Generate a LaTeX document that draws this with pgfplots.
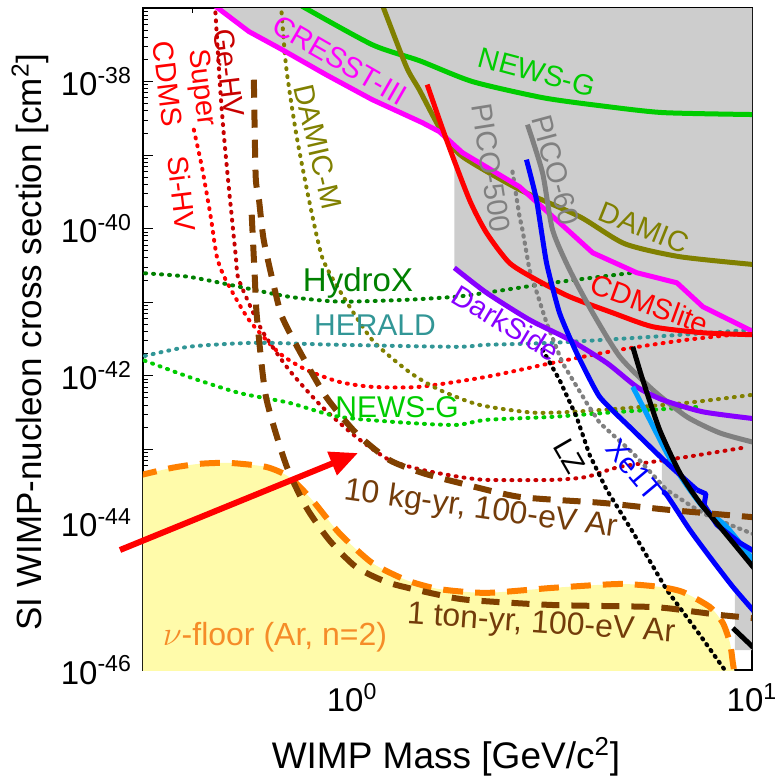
\documentclass[border=0pt]{standalone}
\usepackage{pgfplots}
\pgfplotsset{compat=1.18}
\usepackage{fontspec}
\setmainfont{Liberation Sans}
\usetikzlibrary{arrows.meta}
\definecolor{cresst}{RGB}{255,0,255}
\definecolor{newsg}{RGB}{0,204,0}
\definecolor{damic}{RGB}{128,128,0}
\definecolor{cdmsred}{RGB}{255,0,0}
\definecolor{picogray}{RGB}{128,128,128}
\definecolor{xeblue}{RGB}{0,0,255}
\definecolor{xelight}{RGB}{0,160,255}
\definecolor{darkside}{RGB}{136,0,255}
\definecolor{hydrox}{RGB}{0,128,0}
\definecolor{herald}{RGB}{50,150,150}
\definecolor{gehv}{RGB}{200,0,0}
\definecolor{brownl}{RGB}{128,64,0}
\definecolor{browntxt}{RGB}{115,60,10}
\definecolor{nuorange}{RGB}{255,128,0}
\definecolor{nutxt}{RGB}{245,140,40}
\definecolor{nufill}{RGB}{255,251,170}
\definecolor{regiongray}{RGB}{205,205,205}
\newcommand{\lab}{\fontsize{14.5pt}{17pt}\selectfont}
\newcommand{\labb}{\fontsize{16pt}{19pt}\selectfont}
\pgfplotsset{
  solidl/.style={line width=2.5pt, line join=round},
  dotl/.style={line width=2pt, line cap=round, dash pattern=on 0.5pt off 3.5pt},
}
\begin{document}
\begin{tikzpicture}
\path[use as bounding box] (-71.5pt,-54.5pt) rectangle (318pt,335pt);
\begin{axis}[
  at={(0pt,0pt)}, anchor=south west, scale only axis,
  width=304.5pt, height=331pt,
  xmode=log, ymode=log,
  xmin=0.3, xmax=10, ymin=1e-46, ymax=1e-37,
  no markers,
  axis line style={line width=0.75pt},
  every tick/.style={black, line width=0.5pt},
  major tick length=5pt, minor tick length=2.5pt,
  xtick={1,10},
  xticklabels={{10\textsuperscript{0}},{10\textsuperscript{1}}},
  minor xtick={0.3,0.4,0.5,0.6,0.7,0.8,0.9,2,3,4,5,6,7,8,9},
  ytick={1e-46,1e-45,1e-44,1e-43,1e-42,1e-41,1e-40,1e-39,1e-38,1e-37},
  yticklabels={{10\textsuperscript{-46}},{},{10\textsuperscript{-44}},{},{10\textsuperscript{-42}},{},{10\textsuperscript{-40}},{},{10\textsuperscript{-38}},{}},
  minor ytick={2e-46,3e-46,4e-46,5e-46,6e-46,7e-46,8e-46,9e-46,
    2e-45,3e-45,4e-45,5e-45,6e-45,7e-45,8e-45,9e-45,
    2e-44,3e-44,4e-44,5e-44,6e-44,7e-44,8e-44,9e-44,
    2e-43,3e-43,4e-43,5e-43,6e-43,7e-43,8e-43,9e-43,
    2e-42,3e-42,4e-42,5e-42,6e-42,7e-42,8e-42,9e-42,
    2e-41,3e-41,4e-41,5e-41,6e-41,7e-41,8e-41,9e-41,
    2e-40,3e-40,4e-40,5e-40,6e-40,7e-40,8e-40,9e-40,
    2e-39,3e-39,4e-39,5e-39,6e-39,7e-39,8e-39,9e-39,
    2e-38,3e-38,4e-38,5e-38,6e-38,7e-38,8e-38,9e-38},
  tick label style={font=\fontsize{16.5pt}{19pt}\selectfont},
  xticklabel style={yshift=-3pt},
  yticklabel style={xshift=-2pt},
]
% excluded region
\addplot[fill=regiongray, draw=none] coordinates {
(0.449,2e-37)(0.449,1.12e-37)(0.552,4.79e-38)(0.668,2.72e-38)(0.861,1.24e-38)(1.122,5.69e-39)(1.497,2.77e-39)(1.652,2.09e-39)(1.802,1.35e-39)(1.802,2.94e-41)(2.167,1.35e-41)(2.777,5.78e-42)(3.498,3.09e-42)(3.641,2.06e-42)(4.159,5.18e-43)(5.033,1.84e-43)(5.95,7.66e-44)(5.95,2.64e-44)(6.12,2.40e-44)(6.992,8.04e-45)(7.848,3.44e-45)(8.959,1.35e-45)(9.063,1.25e-45)(9.063,1.87e-46)(11,1.87e-46)(11,2e-37)};
% neutrino floor fill
\addplot[fill=nufill, draw=none, smooth, tension=0.4] coordinates {
(0.29,4.36e-44)(0.354,5.60e-44)(0.414,6.35e-44)(0.492,6.55e-44)(0.609,5.78e-44)(0.695,4.23e-44)(0.794,2.06e-44)(0.928,7.31e-45)(1.122,2.86e-45)(1.366,1.67e-45)(1.652,1.26e-45)(2.167,1.12e-45)(3.171,1.31e-45)(4.671,1.48e-45)(5.877,1.35e-45)(6.716,1.15e-45)(7.848,7.19e-46)(8.456,4.36e-46)(8.810,2.33e-46)(8.959,1.24e-46)(9.063,8.55e-47)(9.1,3e-47)(0.29,3e-47)};
% projections (dotted)
\addplot[dotl, color=cdmsred, smooth, tension=0.4] coordinates {
(0.402,2.22e-39)(0.421,6.98e-40)(0.443,1.46e-40)(0.459,4.16e-41)(0.483,2.02e-41)(0.552,5.78e-42)(0.656,2.06e-42)(0.767,1.21e-42)(0.928,8.28e-43)(1.122,7.08e-43)(1.472,7.08e-43)(2.167,9.69e-43)(3.171,1.50e-42)(4.671,2.26e-42)(6.874,3.09e-42)(10,3.85e-42)};
\addplot[dotl, color=gehv, smooth, tension=0.4] coordinates {
(0.454,1.12e-37)(0.470,5.69e-39)(0.486,6.98e-40)(0.512,4.16e-41)(0.521,2.02e-41)(0.594,4.23e-42)(0.695,1.21e-42)(0.841,3.79e-43)(1.023,1.48e-43)(1.238,7.19e-44)(1.497,5.26e-44)(1.854,4.23e-44)(2.167,3.85e-44)(3.171,3.85e-44)(3.858,4.23e-44)(4.671,5.78e-44)(6.874,7.91e-44)(9.485,1.05e-43)};
\addplot[dotl, color=damic, smooth, tension=0.4] coordinates {
(0.664,1.12e-37)(0.684,1.60e-38)(0.724,2.02e-39)(0.780,2.48e-40)(0.841,4.16e-41)(0.928,1.48e-41)(1.122,3.09e-42)(1.389,1.13e-42)(1.652,6.46e-43)(2.081,4.03e-43)(2.891,3.14e-43)(4.236,3.44e-43)(6.874,4.30e-43)(10,5.51e-43)};
\addplot[dotl, color=hydrox, smooth, tension=0.4] coordinates {
(0.29,2.52e-41)(0.390,2.22e-41)(0.521,1.63e-41)(0.695,1.19e-41)(0.928,1.02e-41)(1.366,1.08e-41)(1.823,1.19e-41)(2.167,1.35e-41)(3.171,1.84e-41)(5.033,2.52e-41)};
\addplot[dotl, color=herald, smooth, tension=0.4] coordinates {
(0.29,1.76e-42)(0.390,2.48e-42)(0.574,2.81e-42)(0.928,2.64e-42)(1.823,2.48e-42)(2.167,2.64e-42)(3.171,2.81e-42)(5.646,3.40e-42)(10,4.23e-42)};
\addplot[dotl, color=newsg, smooth, tension=0.4] coordinates {
(0.29,1.76e-42)(0.390,9.69e-43)(0.521,5.87e-43)(0.695,4.30e-43)(0.928,2.77e-43)(1.366,2.30e-43)(1.823,2.15e-43)(2.167,2.52e-43)(3.171,2.77e-43)(4.671,3.24e-43)(7.413,3.79e-43)};
\addplot[color=picogray, line width=2.1pt, line cap=round, dash pattern=on 0.6pt off 3pt] coordinates {
(2.518,5.97e-40)(2.622,1.46e-40)(2.667,9.69e-41)(2.777,2.77e-41)(3.063,5.26e-42)(3.357,1.50e-42)(3.858,4.30e-43)(4.159,2.30e-43)(5.033,8.95e-44)(6.12,2.81e-44)(7.11,1.65e-44)(7.848,1.21e-44)(10.2,6.87e-45)};
\addplot[color=black, line width=2.1pt, line cap=round, dash pattern=on 0.6pt off 3pt] coordinates {
(2.993,2.26e-42)(3.301,8.83e-43)(3.641,2.77e-43)(3.926,8.41e-44)(4.333,2.81e-44)(5.033,7.55e-45)(6.12,1.23e-45)(7.413,2.99e-46)(8.55,1e-46)(8.7,8e-47)};
% current limits (solid)
\addplot[solidl, color=newsg, smooth, tension=0.4] coordinates {
(0.736,1.12e-37)(1.122,3.18e-38)(1.472,1.93e-38)(2.000,1.0e-38)(2.993,6.05e-39)(4.159,4.71e-39)(5.98,3.79e-39)(10.2,3.56e-39)};
\addplot[solidl, color=damic, smooth, tension=0.4] coordinates {
(1.189,1.12e-37)(1.366,1.60e-38)(1.472,7.78e-39)(1.681,2.02e-39)(1.888,9.55e-40)(2.622,3.40e-40)(3.706,1.46e-40)(4.804,6.25e-41)(6.600,4.16e-41)(10.2,3.24e-41)};
\addplot[solidl, color=cresst] coordinates {
(0.449,1.12e-37)(0.552,4.79e-38)(0.668,2.72e-38)(0.861,1.24e-38)(1.122,5.69e-39)(1.497,2.77e-39)(1.652,2.09e-39)(1.888,1.08e-39)(2.622,3.72e-40)(3.498,9.10e-41)(3.996,4.71e-41)(5.151,2.52e-41)(6.489,1.84e-41)(7.537,8.69e-42)(10.2,3.85e-42)};
\addplot[solidl, color=cdmsred, smooth, tension=0.4] coordinates {
(1.541,9.10e-39)(1.721,1.63e-39)(1.965,2.48e-40)(2.167,8.83e-41)(2.473,3.44e-41)(2.891,2.02e-41)(3.498,1.19e-41)(4.484,7.19e-42)(5.646,4.65e-42)(7.537,3.85e-42)(10.2,3.61e-42)};
\addplot[solidl, color=picogray, smooth, tension=0.4] coordinates {
(2.745,2.60e-39)(2.993,5.78e-40)(3.171,9.69e-41)(3.498,2.77e-41)(3.996,7.19e-42)(4.671,1.82e-42)(5.646,6.46e-43)(6.874,2.77e-43)(8.318,1.67e-43)(10.2,1.23e-43)};
\addplot[solidl, color=darkside, smooth, tension=0.4] coordinates {
(1.802,2.94e-41)(2.167,1.35e-41)(2.777,5.78e-42)(3.498,3.09e-42)(4.333,1.50e-42)(5.151,7.08e-43)(5.98,4.71e-43)(7.537,3.24e-43)(10.2,2.60e-43)};
\addplot[solidl, color=xelight, smooth, tension=0.4] coordinates {
(5.033,7.08e-43)(5.550,2.52e-43)(6.12,8.95e-44)(6.716,3.85e-44)(7.537,1.65e-44)(8.650,8.83e-45)(10.2,2.86e-45)};
\addplot[solidl, color=xeblue, smooth, tension=0.3] coordinates {
(2.729,8.69e-40)(2.891,2.48e-40)(3.063,3.44e-41)(3.301,7.19e-42)(3.641,2.06e-42)(4.159,5.18e-43)(5.033,1.84e-43)(6.12,6.55e-44)(7.283,2.81e-44)};
\addplot[solidl, color=xeblue] coordinates {
(7.283,2.81e-44)(7.67,2.48e-44)(7.59,1.76e-44)(8.172,9.40e-45)(9.33,5.35e-45)(10.2,4.03e-45)};
\addplot[solidl, color=xeblue, smooth, tension=0.4] coordinates {
(5.95,2.64e-44)(6.12,2.40e-44)(6.992,8.04e-45)(7.848,3.44e-45)(8.959,1.35e-45)(10.2,5.97e-46)};
\addplot[solidl, color=black, smooth, tension=0.4] coordinates {
(5.033,2.48e-42)(5.33,8.83e-43)(5.877,1.84e-43)(6.600,4.79e-44)(7.413,1.87e-44)(8.318,8.83e-45)(10.2,2.30e-45)};
\addplot[solidl, color=black] coordinates {(8.959,3.72e-46)(10.2,1.9e-46)};
% sensitivity projections (dashed)
\addplot[line width=3pt, color=brownl, dash pattern=on 9pt off 6pt, smooth, tension=0.4] coordinates {
(0.568,1.06e-38)(0.574,5.09e-40)(0.585,2.48e-40)(0.601,7.08e-41)(0.638,1.63e-41)(0.668,6.35e-42)(0.736,2.26e-42)(0.861,5.18e-43)(1.023,1.67e-43)(1.238,7.19e-44)(1.497,4.79e-44)(1.854,3.50e-44)(2.622,2.26e-44)(4.236,1.87e-44)(6.228,1.50e-44)(10,1.2e-44)};
\addplot[line width=3pt, color=nuorange, dash pattern=on 10pt off 6pt, smooth, tension=0.4] coordinates {
(0.29,4.36e-44)(0.354,5.60e-44)(0.414,6.35e-44)(0.492,6.55e-44)(0.609,5.78e-44)(0.695,4.23e-44)(0.794,2.06e-44)(0.928,7.31e-45)(1.122,2.86e-45)(1.366,1.67e-45)(1.652,1.26e-45)(2.167,1.12e-45)(3.171,1.31e-45)(4.671,1.48e-45)(5.877,1.35e-45)(6.716,1.15e-45)(7.848,7.19e-46)(8.456,4.36e-46)(8.810,2.33e-46)(8.959,1.24e-46)(9.063,8.55e-47)};
\addplot[line width=3pt, color=brownl, dash pattern=on 9pt off 6pt, smooth, tension=0.4] coordinates {
(0.561,1.55e-40)(0.571,2.22e-41)(0.578,6.35e-42)(0.609,5.18e-43)(0.684,6.15e-44)(0.767,1.65e-44)(0.876,5.87e-45)(1.023,2.52e-45)(1.238,1.53e-45)(1.652,1.05e-45)(1.965,8.95e-46)(3.171,7.66e-46)(5.646,7.19e-46)(7.283,6.15e-46)(8.318,5.60e-46)(10,5.09e-46)};
\end{axis}
\begin{scope}[shift={(-71.5pt,335pt)}, x=0.5pt, y=-0.5pt]
\node[rotate=-83, text=cdmsred, font=\lab] at (201,88) {Super};
\node[rotate=-83, text=cdmsred, font=\lab] at (168,84) {CDMS};
\node[rotate=-83, text=cdmsred, font=\lab] at (182,194) {Si-HV};
\node[rotate=-83, text=gehv, font=\lab] at (229,73) {Ge-HV};
\node[rotate=-77, text=damic, font=\lab] at (318,147) {DAMIC-M};
\node[rotate=-30, text=cresst, font=\lab] at (340,60) {CRESST-III};
\node[rotate=-15, text=newsg, font=\lab] at (537,72) {NEWS-G};
\node[rotate=-81, text=picogray, font=\lab] at (491,168) {PICO-500};
\node[rotate=-75, text=picogray, font=\lab] at (556,170) {PICO-60};
\node[rotate=-22, text=damic, font=\lab] at (644,228) {DAMIC};
\node[rotate=-20, text=cdmsred, font=\lab] at (650,304) {CDMSlite};
\node[rotate=-31, text=darkside, font=\lab] at (506,323) {DarkSide};
\node[text=hydrox, font=\fontsize{16.5pt}{19pt}\selectfont] at (358,283) {HydroX};
\node[text=herald, font=\fontsize{15pt}{18pt}\selectfont] at (375,325) {HERALD};
\node[text=newsg, font=\fontsize{15pt}{18pt}\selectfont] at (397,407) {NEWS-G};
\node[rotate=-60, text=black, font=\lab] at (570,456) {LZ};
\node[rotate=-50, text=xeblue, font=\lab] at (634,470) {Xe1T};
\node[rotate=-8, text=browntxt, font=\labb] at (481,510) {10 kg-yr, 100-eV Ar};
\node[rotate=-4, text=browntxt, font=\labb] at (541,625) {1 ton-yr, 100-eV Ar};
\node[text=nutxt, font=\labb] at (275,637) {$\nu$-floor (Ar, n=2)};
\draw[cdmsred, line width=3pt, -{Triangle[length=14pt,width=12pt]}] (120,550) -- (358,453);
\node[rotate=90, font=\fontsize{17.5pt}{20pt}\selectfont] at (30,342) {SI WIMP-nucleon cross section [cm\textsuperscript{2}]};
\node[font=\fontsize{18.5pt}{22pt}\selectfont] at (446,757) {WIMP Mass [GeV/c\textsuperscript{2}]};
\end{scope}
\end{tikzpicture}
\end{document}
